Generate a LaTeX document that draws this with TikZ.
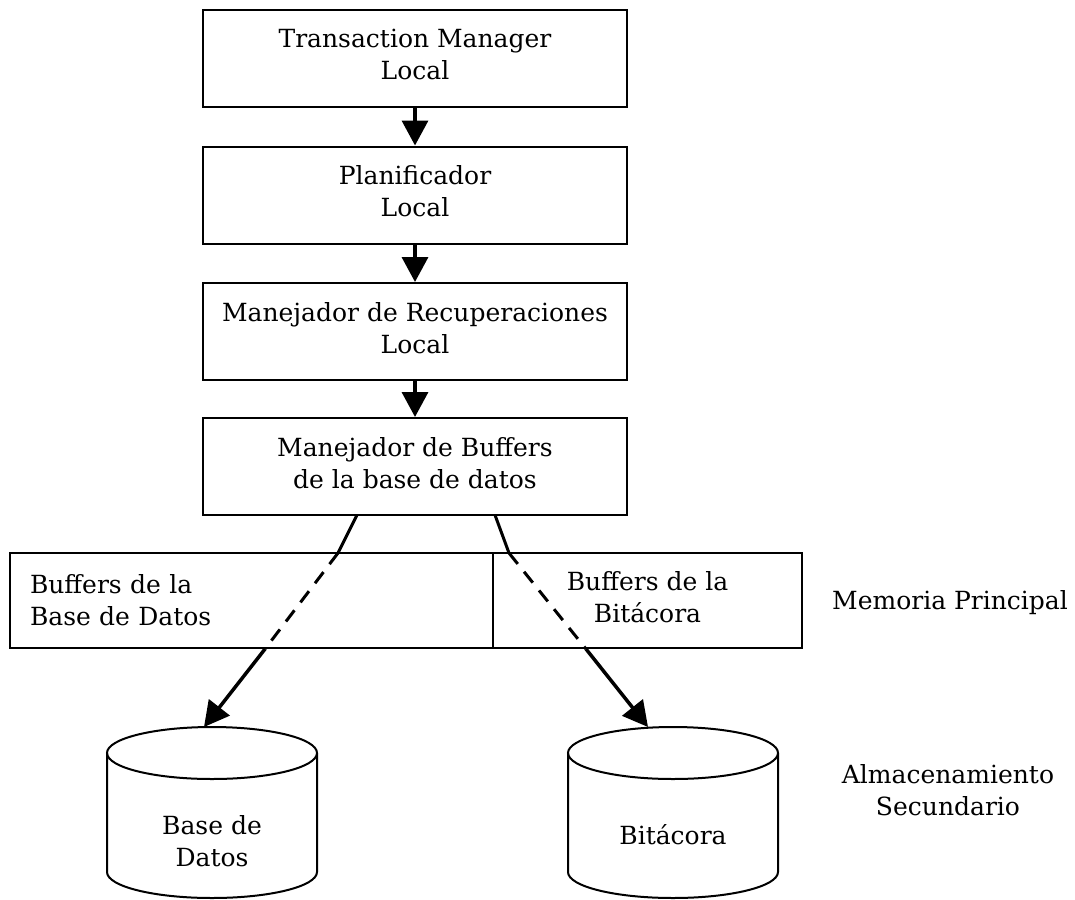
\documentclass[tikz,border=0pt]{standalone}
\usepackage{fontspec}
\setmainfont{DejaVu Serif}
\usetikzlibrary{arrows.meta}
\begin{document}
\begin{tikzpicture}[x=1pt,y=-1pt,
  txt/.style={font=\fontsize{25}{32}\selectfont, align=center},
  layer/.style={draw, line width=2pt, minimum width=424pt, minimum height=97pt, inner sep=0pt, text depth=8pt, txt},
  cell/.style={draw, line width=2pt, minimum height=95pt, inner sep=0pt, txt},
  flow/.style={line width=3.5pt, -{Triangle[width=26pt,length=25pt]}},
  link/.style={line width=3pt},
  linkdash/.style={line width=3pt, dash pattern=on 14pt off 10pt},
  tank/.style={line width=2pt}
]
\useasboundingbox (0,0) rectangle (1075,899);

% stack of local managers
\node[layer] (tm)   at (415,58.5)  {Transaction Manager\\Local};
\node[layer] (plan) at (415,195)   {Planificador\\Local};
\node[layer] (rec)  at (415,331.5) {Manejador de Recuperaciones\\Local};
\node[layer] (buf)  at (415,466.5) {Manejador de Buffers\\de la base de datos};

\draw[flow] (tm) -- (plan);
\draw[flow] (plan) -- (rec);
\draw[flow] (rec) -- (buf);

% main memory buffers
\node[cell, minimum width=483pt, text width=443pt, align=left] (bufdb) at (251.5,600.5) {Buffers de la\\Base de Datos};
\node[cell, minimum width=309pt, text depth=8pt] (buflog) at (647.5,600.5) {Buffers de la\\Bitácora};
\node[txt] (mem) at (950,603) {Memoria Principal};

% secondary storage
\draw[tank] (107,753) -- (107,872) arc[start angle=180, end angle=0, x radius=105, y radius=26] -- (317,753);
\draw[tank] (212,753) ellipse [x radius=105, y radius=26];
\draw[tank] (568,753) -- (568,872) arc[start angle=180, end angle=0, x radius=105, y radius=26] -- (778,753);
\draw[tank] (673,753) ellipse [x radius=105, y radius=26];
\node[txt] (db)  at (212,841) {Base de\\Datos};
\node[txt] (log) at (673,835) {Bitácora};
\node[txt] (alm) at (948,790) {Almacenamiento\\Secundario};

\coordinate (dbtop)  at (204,727);
\coordinate (logtop) at (648,727);

% connectors from the buffer manager to the stores
\coordinate (l0) at (357,515);
\coordinate (l1) at (338,553);
\coordinate (l2) at (265,649);
\draw[link] (l0) -- (l1);
\draw[linkdash] (l1) -- (l2);
\draw[flow] (l2) -- (dbtop);

\coordinate (r0) at (495,515);
\coordinate (r1) at (509,553);
\coordinate (r2) at (586,649);
\draw[link] (r0) -- (r1);
\draw[linkdash] (r1) -- (r2);
\draw[flow] (r2) -- (logtop);
\end{tikzpicture}
\end{document}
